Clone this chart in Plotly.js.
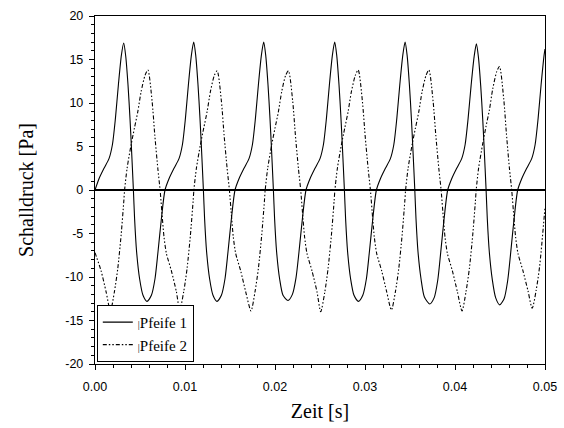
<!DOCTYPE html>
<html>
<head>
<meta charset="utf-8">
<script src="https://cdn.plot.ly/plotly-3.0.1.min.js"></script>
<style>html,body{margin:0;padding:0;background:#fff;}#chart{width:564px;height:428px;}</style>
</head>
<body>
<div id="chart"></div>
<script>
// Zeit [s] and Schalldruck [Pa] for Pfeife 1 (solid)
const zeit1 = [0, 0.000444, 0.001000, 0.001556, 0.001933, 0.002267, 0.002600, 0.002933, 0.003189, 0.003411, 0.003667, 0.003889, 0.004033, 0.004267, 0.004400, 0.004622, 0.004956, 0.005333,
0.005778, 0.006267, 0.006667, 0.007000, 0.007378, 0.007778, 0.008222, 0.008778, 0.009333, 0.009711, 0.010044, 0.010378, 0.010711, 0.010967, 0.011189, 0.011444, 0.011667, 0.011811, 0.012044, 0.012178, 0.012400, 0.012733, 0.013111,
0.013556, 0.014044, 0.014444, 0.014778, 0.015156, 0.015556, 0.016000, 0.016556, 0.017111, 0.017489, 0.017822, 0.018156, 0.018489, 0.018744, 0.018967, 0.019222, 0.019444, 0.019589, 0.019822, 0.019956, 0.020178, 0.020511, 0.020889,
0.021444, 0.021933, 0.022333, 0.022667, 0.023044, 0.023444, 0.023889, 0.024444, 0.025000, 0.025378, 0.025711, 0.026044, 0.026378, 0.026633, 0.026856, 0.027111, 0.027333, 0.027478, 0.027711, 0.027844, 0.028067, 0.028400, 0.028778,
0.029267, 0.029756, 0.030156, 0.030489, 0.030867, 0.031267, 0.031711, 0.032267, 0.032822, 0.033200, 0.033533, 0.033867, 0.034200, 0.034456, 0.034678, 0.034933, 0.035156, 0.035300, 0.035533, 0.035667, 0.035889, 0.036222, 0.036600,
0.037189, 0.037678, 0.038078, 0.038411, 0.038789, 0.039189, 0.039633, 0.040189, 0.040744, 0.041122, 0.041456, 0.041789, 0.042122, 0.042378, 0.042600, 0.042856, 0.043078, 0.043222, 0.043456, 0.043589, 0.043811, 0.044144, 0.044522,
0.044967, 0.045456, 0.045856, 0.046189, 0.046567, 0.046967, 0.047411, 0.047967, 0.048522, 0.048900, 0.049233, 0.049567, 0.049900, 0.05];
const druck1 = [0, 1.3, 2.5, 3.6, 5.2, 8.2, 12.1, 15.5, 16.9, 15.4, 12.1, 8.2, 5.2, 0, -3.3, -7.1, -10.2, -12.1,
-12.8, -12.1, -10.2, -7.1, -3.3, 0, 1.3, 2.5, 3.6, 5.2, 8.2, 12.1, 15.5, 17.0, 15.5, 12.1, 8.2, 5.2, 0, -3.3, -7.1, -10.2, -12.1,
-12.8, -12.1, -10.2, -7.1, -3.3, 0, 1.3, 2.5, 3.6, 5.2, 8.2, 12.1, 15.5, 17.0, 15.5, 12.1, 8.2, 5.2, 0, -3.3, -7.1, -10.2, -12.1,
-12.7, -12.0, -10.1, -7.1, -3.3, 0, 1.3, 2.5, 3.6, 5.2, 8.2, 12.1, 15.5, 17.0, 15.5, 12.1, 8.2, 5.2, 0, -3.3, -7.1, -10.2, -12.1,
-12.8, -12.1, -10.2, -7.1, -3.3, 0, 1.3, 2.5, 3.6, 5.2, 8.2, 12.1, 15.5, 17.0, 15.5, 12.1, 8.2, 5.2, 0, -3.3, -7.1, -10.2, -12.3,
-13.1, -12.4, -10.4, -7.2, -3.3, 0, 1.3, 2.5, 3.6, 5.2, 8.2, 12.0, 15.3, 16.8, 15.3, 12.0, 8.2, 5.2, 0, -3.3, -7.1, -10.3, -12.4,
-13.2, -12.5, -10.4, -7.2, -3.3, 0, 1.3, 2.5, 3.6, 5.2, 8.2, 12.1, 15.5, 16.2];

// Pfeife 2 (dash-dot-dot)
const zeit2 = [0, 0.000678, 0.001233,
0.001711, 0.002156, 0.002533, 0.002900, 0.003200, 0.003289, 0.003567, 0.004011, 0.004378, 0.004756, 0.005122, 0.005567, 0.005878, 0.006344, 0.006644, 0.006978, 0.007233, 0.007489, 0.007667, 0.007933, 0.008489, 0.009044,
0.009411, 0.009856, 0.010233, 0.010600, 0.010900, 0.010989, 0.011267, 0.011711, 0.012078, 0.012456, 0.012822, 0.013267, 0.013578, 0.014044, 0.014344, 0.014678, 0.014933, 0.015189, 0.015367, 0.015633, 0.016189, 0.016744,
0.017333, 0.017778, 0.018156, 0.018522, 0.018822, 0.018911, 0.019189, 0.019633, 0.020000, 0.020378, 0.020744, 0.021189, 0.021500, 0.021967, 0.022267, 0.022600, 0.022856, 0.023111, 0.023289, 0.023556, 0.024111, 0.024667,
0.025078, 0.025522, 0.025900, 0.026267, 0.026567, 0.026656, 0.026933, 0.027378, 0.027744, 0.028122, 0.028489, 0.028933, 0.029244, 0.029711, 0.030011, 0.030344, 0.030600, 0.030856, 0.031033, 0.031300, 0.031856, 0.032411,
0.032933, 0.033378, 0.033756, 0.034122, 0.034422, 0.034511, 0.034789, 0.035233, 0.035600, 0.035978, 0.036344, 0.036789, 0.037100, 0.037567, 0.037867, 0.038200, 0.038456, 0.038711, 0.038889, 0.039156, 0.039711, 0.040267,
0.040778, 0.041222, 0.041600, 0.041967, 0.042267, 0.042356, 0.042633, 0.043078, 0.043444, 0.043822, 0.044189, 0.044633, 0.044944, 0.045411, 0.045711, 0.046044, 0.046300, 0.046556, 0.046733, 0.047000, 0.047556, 0.048111,
0.048578, 0.049022, 0.049400, 0.05];
const druck2 = [-7.2, -9.3, -11.7,
-13.9, -11.7, -9.0, -5.2, -1.3, 0, 2.5, 5.2, 7.1, 9.0, 11.3, 13.2, 13.8, 10.2, 6.3, 2.5, 0, -3.3, -5.4, -7.3, -9.3, -11.7,
-13.8, -11.7, -9.0, -5.2, -1.3, 0, 2.5, 5.2, 7.1, 9.0, 11.3, 13.2, 13.7, 10.2, 6.3, 2.5, 0, -3.3, -5.4, -7.3, -9.3, -11.7,
-13.9, -11.7, -9.0, -5.2, -1.3, 0, 2.5, 5.2, 7.1, 9.0, 11.3, 13.2, 13.7, 10.2, 6.3, 2.5, 0, -3.3, -5.4, -7.3, -9.3, -11.7,
-14.0, -11.8, -9.0, -5.2, -1.3, 0, 2.5, 5.2, 7.1, 9.0, 11.3, 13.2, 13.8, 10.2, 6.3, 2.5, 0, -3.3, -5.4, -7.3, -9.3, -11.7,
-13.8, -11.7, -9.0, -5.2, -1.3, 0, 2.5, 5.2, 7.1, 9.0, 11.3, 13.2, 13.8, 10.2, 6.3, 2.5, 0, -3.3, -5.4, -7.3, -9.3, -11.7,
-13.9, -11.7, -9.0, -5.2, -1.3, 0, 2.6, 5.3, 7.3, 9.2, 11.6, 13.6, 14.2, 10.5, 6.5, 2.5, 0, -3.3, -5.4, -7.3, -9.3, -11.6,
-13.6, -11.5, -8.8, -2.0];

const names = ['<span style="font-size:10px">|</span>Pfeife 1', '<span style="font-size:10px">|</span>Pfeife 2'];
const xTicks = [0, 0.01, 0.02, 0.03, 0.04, 0.05];
const xTickText = ['0.00', '0.01', '0.02', '0.03', '0.04', '0.05'];
const yTicks = [-20, -15, -10, -5, 0, 5, 10, 15, 20];
const yTickText = ['-20', '-15', '-10', '-5', '0', '5', '10', '15', '20'];

const traces = [
  {x: zeit1, y: druck1, type: 'scatter', mode: 'lines', name: names[0],
   line: {color: '#000', width: 1.1, shape: 'spline', smoothing: 0.7}},
  {x: zeit2, y: druck2, type: 'scatter', mode: 'lines', name: names[1],
   line: {color: '#000', width: 1.1, shape: 'spline', smoothing: 0.7, dash: '4px,2px,1.5px,2px,1.5px,2px'}}
];

const tickFont = {family: 'Liberation Sans, Arial, sans-serif', size: 12.5, color: '#000'};
const titleFont = {family: 'Liberation Serif, Times New Roman, serif', size: 20, color: '#000'};

const layout = {
  width: 564, height: 428,
  margin: {l: 95, r: 19, t: 16, b: 64},
  paper_bgcolor: '#fff', plot_bgcolor: '#fff',
  showlegend: true,
  legend: {x: 0.004, y: 0.006, xanchor: 'left', yanchor: 'bottom',
    bgcolor: '#fff', bordercolor: '#000', borderwidth: 1,
    font: {family: 'Liberation Serif, Times New Roman, serif', size: 15, color: '#000'},
    tracegroupgap: 0, itemwidth: 30},
  xaxis: {
    range: [0, 0.05], tickvals: xTicks, ticktext: xTickText,
    showgrid: false, zeroline: false,
    showline: true, linecolor: '#000', linewidth: 1.2, mirror: true,
    ticks: 'outside', ticklen: 5, tickwidth: 1, tickcolor: '#000',
    ticklabelstandoff: 6,
    minor: {dtick: 0.002, ticks: 'outside', ticklen: 3, tickwidth: 1, tickcolor: '#000', showgrid: false},
    tickfont: tickFont,
    title: {text: 'Zeit [s]', font: titleFont, standoff: 10}
  },
  yaxis: {
    range: [-20, 20], tickvals: yTicks, ticktext: yTickText,
    showgrid: false, zeroline: true, zerolinecolor: '#000', zerolinewidth: 1.2,
    showline: true, linecolor: '#000', linewidth: 1.2, mirror: true,
    ticks: 'outside', ticklen: 5, tickwidth: 1, tickcolor: '#000',
    ticklabelstandoff: 3,
    minor: {dtick: 1, ticks: 'outside', ticklen: 3, tickwidth: 1, tickcolor: '#000', showgrid: false},
    tickfont: tickFont,
    title: {text: 'Schalldruck [Pa]', font: titleFont, standoff: 26}
  }
};

Plotly.newPlot('chart', traces, layout, {staticPlot: true, displayModeBar: false});
</script>
</body>
</html>
